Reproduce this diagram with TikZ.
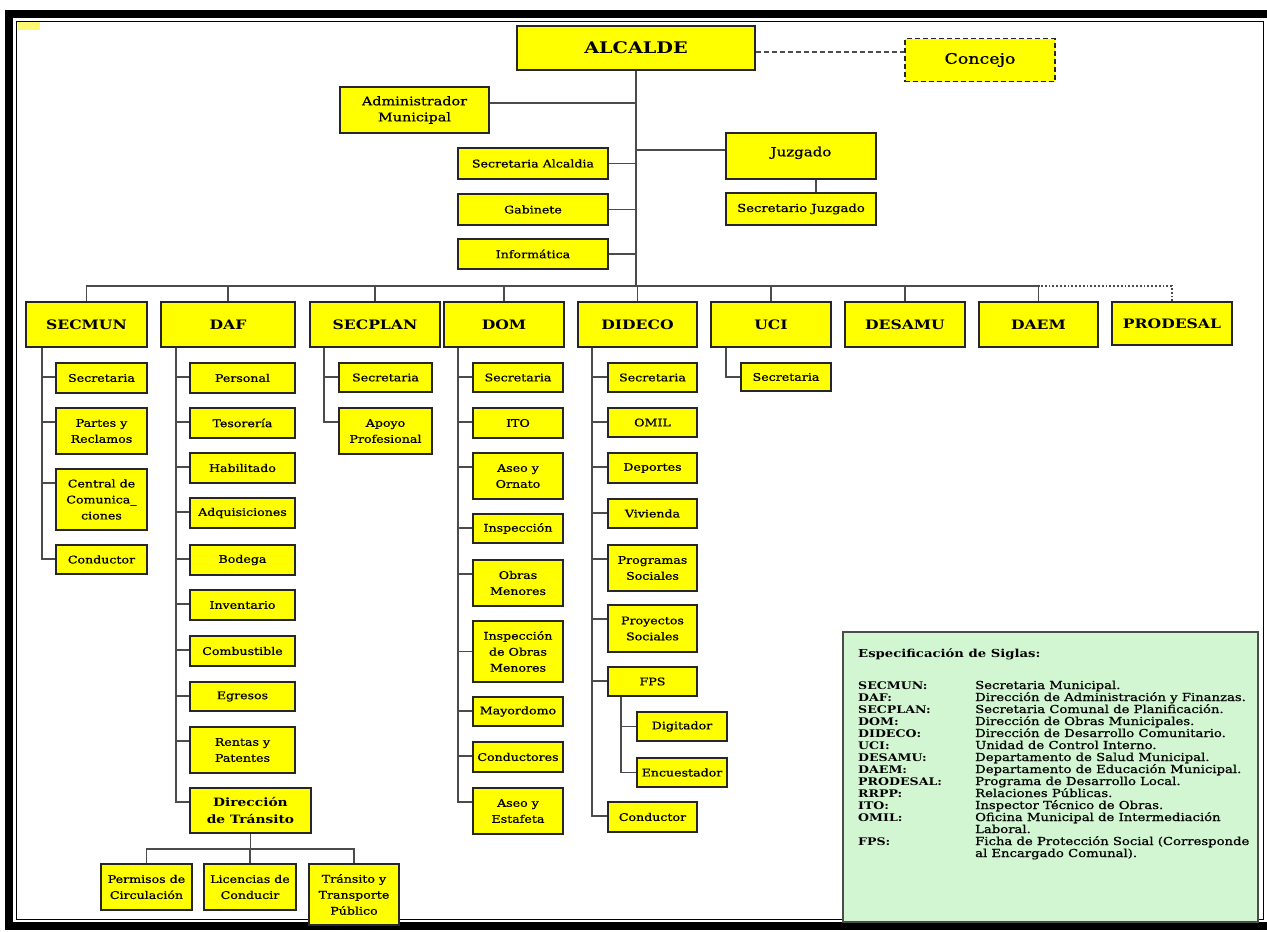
\documentclass[tikz,border=0pt]{standalone}
\usepackage{fontspec}
\setmainfont{DejaVu Serif}[FakeStretch=1.2, UprightFeatures={FakeBold=0.8}]

\definecolor{boxyellow}{RGB}{255,255,0}
\definecolor{linegray}{RGB}{75,75,75}
\definecolor{legendgreen}{RGB}{210,246,210}

\tikzset{
  box/.style={draw=black!85, fill=boxyellow, line width=1.6pt, align=center, inner sep=1pt,
    text=black, font=\fontsize{10.5}{16}\selectfont},
  sub/.style={box, minimum width=#1, minimum height=30},
  head/.style={box, minimum height=45, font=\fontsize{13}{16}\selectfont\bfseries},
  link/.style={draw=linegray, line width=1.8pt},
  abbr/.style={anchor=base west, inner sep=0pt, font=\fontsize{10.5}{12}\selectfont\bfseries},
  expl/.style={anchor=base west, inner sep=0pt, font=\fontsize{11}{12}\selectfont},
}

\begin{document}
\begin{tikzpicture}[x=1pt,y=-1pt]
\useasboundingbox (0,0) rectangle (1267,932);
% frame
\draw[line width=8pt] (1267,14) -- (9,14) -- (9,926) -- (1267,926);
\draw[line width=1pt] (16,21) rectangle (1263,919);
\fill[yellow!55!white] (18,22) rectangle (40,30);

% top level
\node[box, minimum width=238, minimum height=44, font=\fontsize{16}{18}\selectfont\bfseries] (alcalde) at (636,48) {ALCALDE};
\node[box, dashed, dash pattern=on 5pt off 3pt, minimum width=150, minimum height=43,
  font=\fontsize{14.5}{16}\selectfont] (concejo) at (980,60) {Concejo};
\draw[link, dashed, dash pattern=on 5pt off 3pt, line width=1.4pt] ([yshift=-4pt]alcalde.east) -- ([yshift=-4pt]alcalde.east -| concejo.west);

\node[box, minimum width=149, minimum height=46, font=\fontsize{12}{16}\selectfont] (admin) at (414.5,110) {Administrador\\Municipal};
\node[box, minimum width=150, minimum height=31] (secalc) at (533,163.5) {Secretaria Alcaldia};
\node[box, minimum width=150, minimum height=31] (gabinete) at (533,209.5) {Gabinete};
\node[box, minimum width=150, minimum height=30] (informatica) at (533,254) {Informática};
\node[box, minimum width=150, minimum height=46, text depth=9pt, font=\fontsize{12.5}{16}\selectfont] (juzgado) at (801,156) {Juzgado};
\node[box, minimum width=150, minimum height=32, font=\fontsize{11}{16}\selectfont] (secjuz) at (801,209) {Secretario Juzgado};

\coordinate (bus) at (636,286);
\draw[link] (alcalde.south) -- (bus);
\draw[link] ([yshift=7pt]admin.east) -- ([yshift=7pt]admin.east -| alcalde.south);
\foreach \n in {secalc,gabinete,informatica}
  \draw[link] (\n.east) -- (\n.east -| alcalde.south);
\draw[link] ([yshift=6pt]juzgado.west) -- ([yshift=6pt]juzgado.west -| alcalde.south);
\draw[link] ([xshift=15pt]juzgado.south) -- ([xshift=15pt]secjuz.north);

% departments
\foreach \n/\x/\w/\t in {secmun/86.5/121/SECMUN, daf/228/134/DAF, secplan/375/130/SECPLAN,
    dom/504/120/DOM, dideco/637.5/119/DIDECO, uci/771/120/UCI, desamu/905/120/DESAMU,
    daem/1038.5/119/DAEM} {
  \node[head, minimum width=\w] (\n) at (\x,324.5) {\t};
  \draw[link] (\n.north) |- (bus);
}
\node[head, minimum width=120, minimum height=43] (prodesal) at (1172,323.5) {PRODESAL};
\draw[link, dotted, line width=1.2pt] (prodesal.north) |- (bus -| daem.north);

% SECMUN
\node[sub=91] (smsec) at (101.5,378) {Secretaria};
\node[sub=91, minimum height=46] (smpar) at (101.5,431) {Partes y\\Reclamos};
\node[sub=91, minimum height=61] (smcen) at (101.5,499.5) {Central de\\Comunica\_\\ciones};
\node[sub=91, minimum height=29] (smcon) at (101.5,559.5) {Conductor};
\foreach \c in {smsec,smpar,smcen,smcon}
  \draw[link] ([yshift=-15pt]\c.north west) -| ([xshift=-13pt]\c.west |- secmun.south);

% DAF
\node[sub=105] (dfper) at (242.5,378) {Personal};
\node[sub=105] (dftes) at (242.5,423) {Tesorería};
\node[sub=105] (dfhab) at (242.5,468) {Habilitado};
\node[sub=105] (dfadq) at (242.5,513) {Adquisiciones};
\node[sub=105] (dfbod) at (242.5,560) {Bodega};
\node[sub=105] (dfinv) at (242.5,605) {Inventario};
\node[sub=105] (dfcom) at (242.5,651) {Combustible};
\node[sub=105, minimum height=29] (dfegr) at (242.5,696.5) {Egresos};
\node[sub=105, minimum height=46] (dfren) at (242.5,750) {Rentas y\\Patentes};
\node[box, minimum width=121, minimum height=45, font=\fontsize{11.5}{17}\selectfont\bfseries] (transito) at (250.5,810.5) {Dirección\\de Tránsito};
\foreach \c in {dfper,dftes,dfhab,dfadq,dfbod,dfinv,dfcom,dfegr,dfren,transito}
  \draw[link] ([yshift=-15pt]\c.north west) -| ([xshift=-13pt]\c.west |- daf.south);

\coordinate (tbus) at (250.5,849);
\draw[link] (transito.south) -- (tbus);
\node[sub=91, minimum height=46] (permisos) at (146.5,887) {Permisos de\\Circulación};
\node[sub=92, minimum height=46] (licencias) at (250,887) {Licencias de\\Conducir};
\node[sub=90, minimum height=61] (transporte) at (354,894.5) {Tránsito y\\Transporte\\Público};
\foreach \c in {permisos,licencias,transporte}
  \draw[link] (\c.north) |- (tbus);

% SECPLAN
\node[sub=93, minimum height=29] (spsec) at (385.5,377.5) {Secretaria};
\node[sub=93, minimum height=46] (spapo) at (385.5,431) {Apoyo\\Profesional};
\foreach \c in {spsec,spapo}
  \draw[link] ([yshift=-15pt]\c.north west) -| ([xshift=-14pt]\c.west |- secplan.south);

% DOM
\node[sub=90, minimum height=29] (dmsec) at (518,377.5) {Secretaria};
\node[sub=90] (dmito) at (518,423) {ITO};
\node[sub=90, minimum height=46] (dmaseo) at (518,476) {Aseo y\\Ornato};
\node[sub=90, minimum height=29] (dminsp) at (518,528.5) {Inspección};
\node[sub=90, minimum height=46] (dmobras) at (518,583) {Obras\\Menores};
\node[sub=90, minimum height=61] (dmiom) at (518,651.5) {Inspección\\de Obras\\Menores};
\node[sub=90, minimum height=29] (dmmay) at (518,711.5) {Mayordomo};
\node[sub=90] (dmcond) at (518,757) {Conductores};
\node[sub=90, minimum height=46] (dmest) at (518,811) {Aseo y\\Estafeta};
\foreach \c in {dmsec,dmito,dmaseo,dminsp,dmobras,dmmay,dmcond,dmest}
  \draw[link] ([yshift=-15pt]\c.north west) -| ([xshift=-14pt]\c.west |- dom.south);
\draw[link] (dmiom.west) -| ([xshift=-14pt]dmiom.west |- dom.south);

% DIDECO
\node[sub=89, minimum height=29] (ddsec) at (652.5,377.5) {Secretaria};
\node[sub=89, minimum height=29] (ddomil) at (652.5,422.5) {OMIL};
\node[sub=89] (dddep) at (652.5,468) {Deportes};
\node[sub=89, minimum height=29] (ddviv) at (652.5,513.5) {Vivienda};
\node[sub=89, minimum height=46] (ddprog) at (652.5,568) {Programas\\Sociales};
\node[sub=89, minimum height=47] (ddproy) at (652.5,628.5) {Proyectos\\Sociales};
\node[sub=89, minimum height=29] (ddfps) at (652.5,681.5) {FPS};
\node[sub=89] (ddcon) at (652.5,817) {Conductor};
\foreach \c in {ddsec,ddomil,dddep,ddviv,ddprog,ddproy,ddfps,ddcon}
  \draw[link] ([yshift=-15pt]\c.north west) -| ([xshift=-15pt]\c.west |- dideco.south);
\node[sub=90, minimum height=29] (fpsdig) at (682,726.5) {Digitador};
\node[sub=90, minimum height=29] (fpsenc) at (682,772.5) {Encuestador};
\foreach \c in {fpsdig,fpsenc}
  \draw[link] (\c.west) -| ([xshift=-15pt]\c.west |- ddfps.south);

% UCI
\node[sub=90, minimum height=28] (ucisec) at (786,377) {Secretaria};
\draw[link] (ucisec.west) -| ([xshift=-14pt]ucisec.west |- uci.south);

% legend
\node[draw=black!70, line width=1.4pt, fill=legendgreen, minimum width=415, minimum height=290] (legend) at (1050.5,777) {};
\node[abbr, font=\fontsize{11}{12}\selectfont\bfseries] (legtitle) at (858,657) {Especificación de Siglas:};
\foreach \a/\d [count=\i from 0] in {
    {SECMUN:}/{Secretaria Municipal.},
    {DAF:}/{Dirección de Administración y Finanzas.},
    {SECPLAN:}/{Secretaria Comunal de Planificación.},
    {DOM:}/{Dirección de Obras Municipales.},
    {DIDECO:}/{Dirección de Desarrollo Comunitario.},
    {UCI:}/{Unidad de Control Interno.},
    {DESAMU:}/{Departamento de Salud Municipal.},
    {DAEM:}/{Departamento de Educación Municipal.},
    {PRODESAL:}/{Programa de Desarrollo Local.},
    {RRPP:}/{Relaciones Públicas.},
    {ITO:}/{Inspector Técnico de Obras.},
    {OMIL:}/{Oficina Municipal de Intermediación},
    {}/{Laboral.},
    {FPS:}/{Ficha de Protección Social (Corresponde},
    {}/{al Encargado Comunal).}} {
  \node[abbr] (ab\i) at (858,{689+12*\i}) {\a};
  \node[expl] (de\i) at (975,{689+12*\i}) {\d};
}
\end{tikzpicture}
\end{document}
